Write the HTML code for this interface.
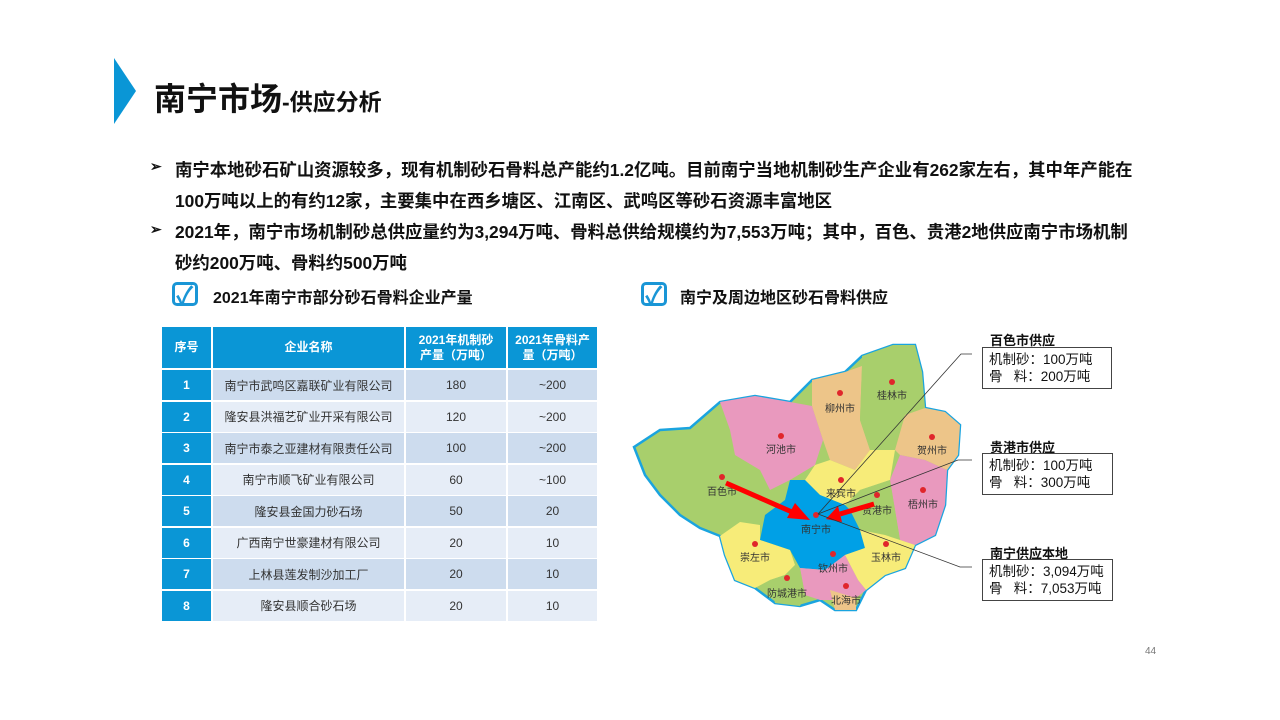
<!DOCTYPE html>
<html><head><meta charset="utf-8"><style>
*{margin:0;padding:0;box-sizing:border-box}
body{width:1280px;height:720px;background:#fff;position:relative;overflow:hidden;font-family:"Liberation Sans","Noto Sans CJK SC",sans-serif;color:#111}
.a{position:absolute}
.b{font-weight:bold;font-size:17.4px;white-space:nowrap}
.b2{font-weight:bold;font-size:16px;white-space:nowrap}
.c{position:absolute;display:flex;align-items:center;justify-content:center;text-align:center;font-size:12px;color:#333}
.h{background:#0a96d6;color:#fff;font-weight:bold;font-size:12px;line-height:15px}
.n{background:#0a96d6;color:#fff;font-weight:bold;font-size:12px}
.r1{background:#cddcee}.r2{background:#e6edf7}
.chk{position:absolute;width:26px;height:24px;border:3px solid #1a96d6;border-radius:5px}
.box{position:absolute;border:1.5px solid #444;background:#fff;font-size:13.5px;line-height:17px;padding:3px 6px;white-space:nowrap}
.bt{position:absolute;font-weight:bold;font-size:13px;white-space:nowrap}
</style></head><body>
<svg class="a" style="left:114px;top:58px" width="24" height="66"><polygon points="0,0 22,33 0,66" fill="#0a96d6"/></svg>
<div class="a" style="left:154px;top:74px;font-size:32px;font-weight:bold;white-space:nowrap">南宁市场<span style="font-size:23px">-供应分析</span></div>
<div class="a b" style="left:150px;top:158px;font-size:14px">➢</div>
<div class="a b" style="left:175px;top:157px">南宁本地砂石矿山资源较多，现有机制砂石骨料总产能约1.2亿吨。目前南宁当地机制砂生产企业有262家左右，其中年产能在</div>
<div class="a b" style="left:175px;top:188px">100万吨以上的有约12家，主要集中在西乡塘区、江南区、武鸣区等砂石资源丰富地区</div>
<div class="a b" style="left:150px;top:221px;font-size:14px">➢</div>
<div class="a b" style="left:175px;top:219px">2021年，南宁市场机制砂总供应量约为3,294万吨、骨料总供给规模约为7,553万吨；其中，百色、贵港2地供应南宁市场机制</div>
<div class="a b" style="left:175px;top:250px">砂约200万吨、骨料约500万吨</div>
<div class="chk" style="left:172px;top:282px"></div><div class="a" style="left:176px;top:276px;color:#1a96d6;font-size:24px;font-weight:bold">✓</div>
<div class="a b2" style="left:213px;top:284px">2021年南宁市部分砂石骨料企业产量</div>
<div class="chk" style="left:641px;top:282px"></div><div class="a" style="left:645px;top:276px;color:#1a96d6;font-size:24px;font-weight:bold">✓</div>
<div class="a b2" style="left:680px;top:284px">南宁及周边地区砂石骨料供应</div>

<div class="c h" style="left:162px;top:327px;width:49px;height:41px">序号</div>
<div class="c h" style="left:213px;top:327px;width:191px;height:41px">企业名称</div>
<div class="c h" style="left:406px;top:327px;width:100px;height:41px">2021年机制砂<br>产量（万吨）</div>
<div class="c h" style="left:508px;top:327px;width:89px;height:41px">2021年骨料产<br>量（万吨）</div>
<div class="c n" style="left:162px;top:370px;width:49px;height:30px">1</div><div class="c r1" style="left:213px;top:370px;width:191px;height:30px">南宁市武鸣区嘉联矿业有限公司</div><div class="c r1" style="left:406px;top:370px;width:100px;height:30px">180</div><div class="c r1" style="left:508px;top:370px;width:89px;height:30px">~200</div>
<div class="c n" style="left:162px;top:401.5px;width:49px;height:30px">2</div><div class="c r2" style="left:213px;top:401.5px;width:191px;height:30px">隆安县洪福艺矿业开采有限公司</div><div class="c r2" style="left:406px;top:401.5px;width:100px;height:30px">120</div><div class="c r2" style="left:508px;top:401.5px;width:89px;height:30px">~200</div>
<div class="c n" style="left:162px;top:433px;width:49px;height:30px">3</div><div class="c r1" style="left:213px;top:433px;width:191px;height:30px">南宁市泰之亚建材有限责任公司</div><div class="c r1" style="left:406px;top:433px;width:100px;height:30px">100</div><div class="c r1" style="left:508px;top:433px;width:89px;height:30px">~200</div>
<div class="c n" style="left:162px;top:464.5px;width:49px;height:30px">4</div><div class="c r2" style="left:213px;top:464.5px;width:191px;height:30px">南宁市顺飞矿业有限公司</div><div class="c r2" style="left:406px;top:464.5px;width:100px;height:30px">60</div><div class="c r2" style="left:508px;top:464.5px;width:89px;height:30px">~100</div>
<div class="c n" style="left:162px;top:496px;width:49px;height:30px">5</div><div class="c r1" style="left:213px;top:496px;width:191px;height:30px">隆安县金国力砂石场</div><div class="c r1" style="left:406px;top:496px;width:100px;height:30px">50</div><div class="c r1" style="left:508px;top:496px;width:89px;height:30px">20</div>
<div class="c n" style="left:162px;top:527.5px;width:49px;height:30px">6</div><div class="c r2" style="left:213px;top:527.5px;width:191px;height:30px">广西南宁世豪建材有限公司</div><div class="c r2" style="left:406px;top:527.5px;width:100px;height:30px">20</div><div class="c r2" style="left:508px;top:527.5px;width:89px;height:30px">10</div>
<div class="c n" style="left:162px;top:559px;width:49px;height:30px">7</div><div class="c r1" style="left:213px;top:559px;width:191px;height:30px">上林县莲发制沙加工厂</div><div class="c r1" style="left:406px;top:559px;width:100px;height:30px">20</div><div class="c r1" style="left:508px;top:559px;width:89px;height:30px">10</div>
<div class="c n" style="left:162px;top:590.5px;width:49px;height:30px">8</div><div class="c r2" style="left:213px;top:590.5px;width:191px;height:30px">隆安县顺合砂石场</div><div class="c r2" style="left:406px;top:590.5px;width:100px;height:30px">20</div><div class="c r2" style="left:508px;top:590.5px;width:89px;height:30px">10</div>

<svg class="a" style="left:0;top:0" width="1280" height="720" font-family="Liberation Sans,Noto Sans CJK SC,sans-serif" font-size="10">
<path d="M634,447 L660,430 L690,428 L720,402 L755,396 L790,402 L812,380 L845,372 L862,356 L893,345 L915,345 L922,372 L925,408 L945,412 L960,425 L958,455 L947,470 L945,505 L935,535 L915,545 L905,568 L885,575 L866,590 L856,610 L835,610 L820,600 L800,606 L775,603 L755,588 L735,580 L725,555 L720,536 L700,528 L680,515 L660,495 L645,475 Z" fill="#a8cf6c" stroke="#1aa4df" stroke-width="2.5"/>
<polygon points="720,402 755,396 790,402 812,406 823,440 815,465 790,480 770,490 760,470 735,455 730,430" fill="#e999be"/>
<polygon points="812,380 845,372 862,366 860,420 870,450 855,470 830,460 823,440 812,406" fill="#edc589"/>
<polygon points="862,366 862,356 893,345 915,345 922,372 925,408 905,415 895,450 870,450 860,420" fill="#a8cf6c"/>
<polygon points="905,415 925,408 945,412 960,425 958,455 947,470 925,460 900,455 895,450" fill="#edc589"/>
<polygon points="900,455 925,460 947,470 945,505 935,535 915,545 900,540 895,510 890,480" fill="#e999be"/>
<polygon points="815,465 830,460 855,470 870,450 895,450 890,480 860,490 845,505 820,495 805,480" fill="#f7ec79"/>
<polygon points="860,490 890,480 895,510 900,540 885,535 860,530 850,510" fill="#a8cf6c"/>
<polygon points="790,480 805,480 820,495 845,505 850,510 860,530 865,548 845,555 825,570 800,568 790,550 760,540 765,515 785,500" fill="#00a0e6"/>
<polygon points="860,530 885,535 900,540 915,545 905,568 885,575 866,590 858,580 845,555 865,548" fill="#f7ec79"/>
<polygon points="725,555 720,536 740,522 760,525 760,540 790,550 795,565 785,575 770,580 755,588 735,580" fill="#f7ec79"/>
<polygon points="800,568 825,570 845,555 858,580 866,590 856,598 835,600 820,600 805,595" fill="#e999be"/>
<polygon points="770,580 785,575 795,565 800,568 805,595 800,606 775,603" fill="#a8cf6c"/>
<polygon points="830,590 856,598 856,610 835,610" fill="#edc589"/>
<g fill="#e0262b">
<circle cx="892" cy="382" r="3"/><circle cx="840" cy="393" r="3"/><circle cx="781" cy="436" r="3"/><circle cx="932" cy="437" r="3"/><circle cx="722" cy="477" r="3"/><circle cx="841" cy="480" r="3"/><circle cx="877" cy="495" r="3"/><circle cx="923" cy="490" r="3"/><circle cx="816" cy="515" r="3"/><circle cx="886" cy="544" r="3"/><circle cx="755" cy="544" r="3"/><circle cx="833" cy="554" r="3"/><circle cx="787" cy="578" r="3"/><circle cx="846" cy="586" r="3"/>
</g>
<g fill="#333" text-anchor="middle">
<text x="892" y="399">桂林市</text><text x="840" y="412">柳州市</text><text x="781" y="453">河池市</text><text x="932" y="454">贺州市</text><text x="722" y="495">百色市</text><text x="841" y="497">来宾市</text><text x="877" y="514">贵港市</text><text x="923" y="508">梧州市</text><text x="816" y="533">南宁市</text><text x="886" y="561">玉林市</text><text x="755" y="561">崇左市</text><text x="833" y="572">钦州市</text><text x="787" y="597">防城港市</text><text x="846" y="604">北海市</text>
</g>
<line x1="726" y1="483" x2="792" y2="512" stroke="#f00" stroke-width="5"/>
<polygon points="810,520 787,518 795,503" fill="#f00"/>
<line x1="874" y1="504" x2="840" y2="514" stroke="#f00" stroke-width="5"/>
<polygon points="826,519 838,506 842,522" fill="#f00"/>
<g stroke="#333" stroke-width="0.8" fill="none">
<polyline points="818,514 961,354 972,354"/><polyline points="818,514 958,460 972,460"/><polyline points="818,514 960,567 972,567"/>
</g>
</svg>
<div class="bt" style="left:990px;top:330px">百色市供应</div>
<div class="box" style="left:982px;top:347px;width:130px">机制砂：100万吨<br>骨&nbsp;&nbsp;&nbsp;料：200万吨</div>
<div class="bt" style="left:990px;top:437px">贵港市供应</div>
<div class="box" style="left:982px;top:453px;width:131px">机制砂：100万吨<br>骨&nbsp;&nbsp;&nbsp;料：300万吨</div>
<div class="bt" style="left:990px;top:543px">南宁供应本地</div>
<div class="box" style="left:982px;top:559px;width:131px">机制砂：3,094万吨<br>骨&nbsp;&nbsp;&nbsp;料：7,053万吨</div>
<div class="a" style="left:1145px;top:646px;font-size:10px;color:#777">44</div>
</body></html>
